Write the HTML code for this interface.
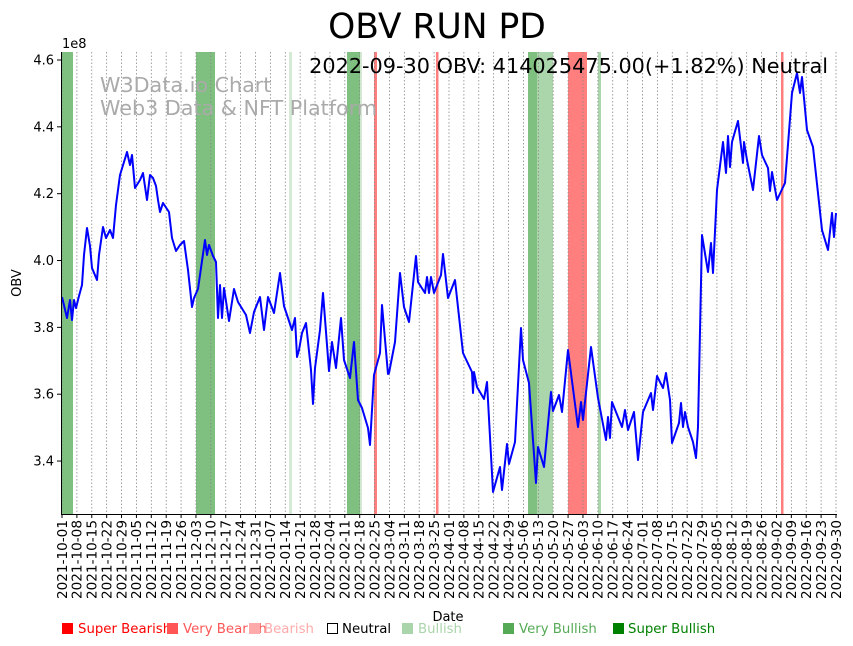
<!DOCTYPE html>
<html><head><meta charset="utf-8"><style>body{margin:0;background:#fff}svg{display:block;font-family:"DejaVu Sans","Liberation Sans",sans-serif}</style></head>
<body>
<svg id="s" width="853" height="646" viewBox="0 0 853 646" xmlns="http://www.w3.org/2000/svg">
<rect width="853" height="646" fill="#fff"/>
<g id="bands">
<rect x="62" y="52" width="11" height="462" fill="#008000" opacity="0.5"/>
<rect x="196" y="52" width="19" height="462" fill="#008000" opacity="0.5"/>
<rect x="289" y="52" width="3" height="462" fill="#008000" opacity="0.17"/>
<rect x="347" y="52" width="13" height="462" fill="#008000" opacity="0.5"/>
<rect x="360" y="52" width="2" height="462" fill="#008000" opacity="0.17"/>
<rect x="374" y="52" width="3" height="462" fill="#ff0000" opacity="0.5"/>
<rect x="436" y="52" width="2.5" height="462" fill="#ff0000" opacity="0.5"/>
<rect x="528" y="52" width="9" height="462" fill="#008000" opacity="0.5"/>
<rect x="537" y="52" width="16" height="462" fill="#008000" opacity="0.33"/>
<rect x="568" y="52" width="19" height="462" fill="#ff0000" opacity="0.5"/>
<rect x="598" y="52" width="3" height="462" fill="#008000" opacity="0.33"/>
<rect x="781" y="52" width="2.5" height="462" fill="#ff0000" opacity="0.5"/>
</g>
<g id="grid" stroke="#888" stroke-width="0.8" stroke-dasharray="1.5,2"></g>
<text x="100" y="92" font-size="20.7" fill="#aaa">W3Data.io Chart</text>
<text x="100" y="115" font-size="20.7" fill="#aaa">Web3 Data &amp; NFT Platform</text>
<polyline fill="none" stroke="#0000ff" stroke-width="2" stroke-linejoin="round" points="62,297 67,318 70,300 72,320 74,300 76,308 79,296 82,285 84,255 87,228 90,246 92,268 97,280 99,255 103,227 106,238 110,230 113,238 116,205 120,175 124,162 127,152 130,165 132,155 135,188 140,180 143,173 147,200 150,175 153,178 156,186 158,200 160,212 163,203 165,206 169,212 172,238 176,251 180,245 184,241 188,270 192,307 194,298 198,289 205,240 207,255 209,245 213,256 216,262 218,318 220,285 222,318 224,288 229,321 234,289 238,302 246,315 250,333 254,312 260,297 264,330 268,297 274,313 280,273 284,306 292,330 295,318 297,357 299,350 302,333 306,323 311,370 313,404 315,368 320,330 323,293 329,371 332,342 336,368 341,318 344,360 350,378 354,342 358,400 362,408 368,428 370,445 374,375 380,353 382,305 388,374 389,373 395,342 400,273 404,307 409,322 416,256 418,282 425,293 427,277 429,293 431,277 434,293 441,275 443,254 448,298 455,280 463,353 472,372 473,393 474,372 477,387 484,399 487,382 493,492 500,467 502,490 507,444 509,464 515,442 521,328 523,360 529,383 536,483 538,447 544,467 551,392 553,411 559,395 562,412 568,350 578,427 581,402 583,420 591,347 598,398 606,440 608,417 610,438 612,402 622,427 625,410 628,430 634,412 638,460 643,412 651,393 653,410 657,376 663,388 666,373 670,400 672,443 679,423 681,403 683,427 685,412 688,427 693,442 696,458 698,427 702,235 708,272 711,243 713,273 717,190 723,142 726,173 728,136 730,167 732,142 738,121 743,163 744,142 747,160 753,190 759,136 762,155 768,168 770,191 772,172 777,200 785,183 792,93 797,73 800,93 802,77 807,130 813,147 822,230 828,250 832,213 834,237 836,213"/>
<line x1="61.5" y1="52" x2="61.5" y2="514.5" stroke="#000" stroke-width="1"/>
<line x1="61" y1="514.5" x2="837" y2="514.5" stroke="#000" stroke-width="1"/>
<g id="yt" font-size="13" text-anchor="end"></g>
<text x="62" y="48" font-size="13">1e8</text>
<text x="21" y="283" font-size="13" text-anchor="middle" transform="rotate(-90 21 283)">OBV</text>
<g id="xt" font-size="13.6" text-anchor="end"></g>
<text x="448" y="621" font-size="13" text-anchor="middle">Date</text>
<text x="437" y="38" font-size="34.5" text-anchor="middle">OBV RUN PD</text>
<text x="828" y="73" font-size="20.8" text-anchor="end">2022-09-30 OBV: 414025475.00(+1.82%) Neutral</text>
<g font-size="13.3">
<rect x="62" y="623" width="11" height="11" fill="#ff0000"/><text x="78" y="633" fill="#ff0000">Super Bearish</text>
<rect x="167" y="623" width="11" height="11" fill="#ff5555"/><text x="183" y="633" fill="#ff5555">Very Bearish</text>
<rect x="249" y="623" width="11" height="11" fill="#ffaaaa"/><text x="264" y="633" fill="#ffaaaa">Bearish</text>
<rect x="327.5" y="623.5" width="10" height="10" fill="none" stroke="#000"/><text x="342" y="633" fill="#000">Neutral</text>
<rect x="402" y="623" width="11" height="11" fill="#aad4aa"/><text x="418" y="633" fill="#aad4aa">Bullish</text>
<rect x="503" y="623" width="11" height="11" fill="#55aa55"/><text x="519" y="633" fill="#55aa55">Very Bullish</text>
<rect x="613" y="623" width="11" height="11" fill="#008000"/><text x="628" y="633" fill="#008000">Super Bullish</text>
</g>
</svg>
<script>
var NS="http://www.w3.org/2000/svg";
function el(t,a,p,txt){var e=document.createElementNS(NS,t);for(var k in a)e.setAttribute(k,a[k]);if(txt)e.textContent=txt;document.getElementById(p).appendChild(e);}
var d0=new Date(Date.UTC(2021,9,1));
for(var i=0;i<=52;i++){var x=62+i*774/52;
 el("line",{x1:x,y1:52,x2:x,y2:514},"grid");
 el("line",{x1:x,y1:514,x2:x,y2:518,stroke:"#000"},"xt");
 var d=new Date(d0.getTime()+i*7*864e5);var s=d.toISOString().slice(0,10);
 el("text",{x:0,y:0,transform:"translate("+(x+4.8)+",520) rotate(-90)"},"xt",s);}
for(var v=3.4;v<4.61;v+=0.2){var y=60+(4.6-v)*334.2;
 el("line",{x1:57,y1:y,x2:62,y2:y,stroke:"#000"},"yt");
 el("text",{x:54,y:y+4.5},"yt",v.toFixed(1));}
</script>
</body></html>
